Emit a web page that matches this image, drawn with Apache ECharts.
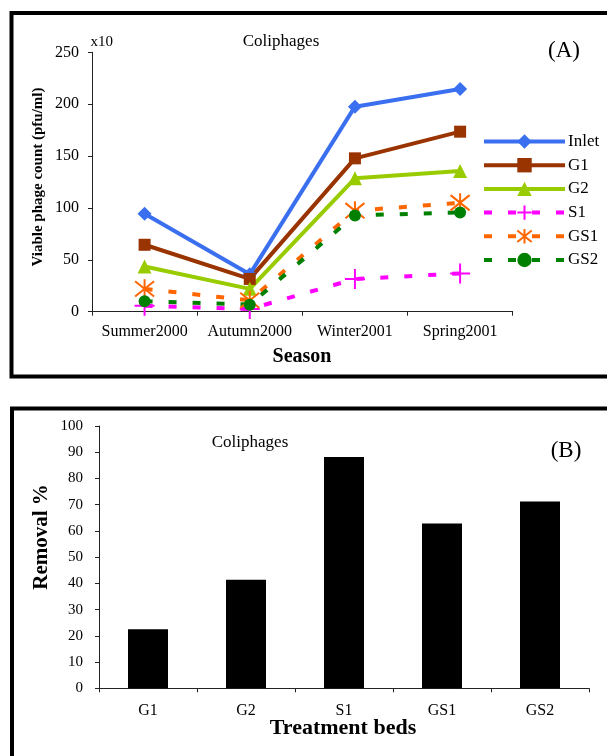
<!DOCTYPE html>
<html><head><meta charset="utf-8">
<script src="https://cdn.jsdelivr.net/npm/echarts@6/dist/echarts.min.js"></script>
<style>html,body{margin:0;padding:0;background:#fff}#c{width:607px;height:756px}</style>
</head><body><div id="c"></div>
<script>
// ---- Data (A) ----
const seasons = ['Summer2000', 'Autumn2000', 'Winter2001', 'Spring2001'];
const inlet = [94.5, 36, 197.6, 214.6];
const g1 = [64.5, 31.6, 147.8, 173.5];
const g2 = [43.5, 22, 128.5, 135.6];
const s1 = [5.8, 2.6, 31.5, 36.9];
const gs1 = [22, 11, 97.3, 105];
const gs2 = [10, 6.8, 92.8, 95.7];
// ---- Data (B) ----
const beds = ['G1', 'G2', 'S1', 'GS1', 'GS2'];
const removal = [22.5, 41.4, 88.2, 62.8, 71.2];

const FF = 'Liberation Serif';
const chart = echarts.init(document.getElementById('c'), null, {renderer: 'canvas'});

function lineSeries(name, data, color, symbol, size, dashed, extra) {
  return Object.assign({
    type: 'line', name: name, data: data, xAxisIndex: 0, yAxisIndex: 0,
    symbol: symbol, symbolSize: size,
    lineStyle: {color: color, width: 4, type: dashed ? [8, 16] : 'solid'},
    itemStyle: {color: color},
    emphasis: {disabled: true}
  }, extra || {});
}

const axisCommon = {
  axisLine: {show: true, lineStyle: {color: '#222', width: 1}},
  axisTick: {show: true, length: 4, lineStyle: {color: '#222'}},
  splitLine: {show: false}
};

chart.setOption({
  animation: false,
  backgroundColor: '#fff',
  grid: [
    {left: 92, top: 52.3, width: 420.7, height: 259.4},
    {left: 99, top: 426, width: 490, height: 262.3}
  ],
  xAxis: [
    Object.assign({type: 'category', gridIndex: 0, data: seasons,
      axisLabel: {fontFamily: FF, fontSize: 16, color: '#000', margin: 12, interval: 0}}, axisCommon),
    Object.assign({type: 'category', gridIndex: 1, data: beds,
      axisLabel: {fontFamily: FF, fontSize: 16, color: '#000', margin: 14, interval: 0}}, axisCommon)
  ],
  yAxis: [
    Object.assign({type: 'value', gridIndex: 0, min: 0, max: 250, interval: 50,
      axisLabel: {fontFamily: FF, fontSize: 16, color: '#000', margin: 13}}, axisCommon),
    Object.assign({type: 'value', gridIndex: 1, min: 0, max: 100, interval: 10,
      axisLabel: {fontFamily: FF, fontSize: 15, color: '#000', margin: 16}}, axisCommon)
  ],
  legend: {
    orient: 'vertical', left: 482, top: 133, padding: 0,
    itemWidth: 81, itemHeight: 18, itemGap: 6.7,
    lineStyle: {width: 4},
    textStyle: {fontFamily: FF, fontSize: 17, color: '#000', padding: [0, 0, 0, -2]},
    data: ['Inlet', 'G1', 'G2', 'S1', 'GS1', 'GS2']
  },
  series: [
    lineSeries('Inlet', inlet, '#3a6ff0', 'diamond', 14, false),
    lineSeries('G1', g1, '#993300', 'rect', 12, false),
    lineSeries('G2', g2, '#99cc00', 'triangle', 14, false),
    lineSeries('S1', s1, '#ff00ff', 'path://M0,10L20,10M10,0L10,20', 20, true,
      {itemStyle: {color: '#ff00ff', borderColor: '#ff00ff', borderWidth: 2}}),
    lineSeries('GS1', gs1, '#ff6600', 'path://M2,2L18,18M18,2L2,18M10,0L10,20', 19, true,
      {itemStyle: {color: '#ff6600', borderColor: '#ff6600', borderWidth: 2}}),
    lineSeries('GS2', gs2, '#008000', 'circle', 12, true),
    {type: 'bar', xAxisIndex: 1, yAxisIndex: 1, data: removal, barWidth: 40,
      itemStyle: {color: '#000'}, emphasis: {disabled: true}}
  ],
  graphic: [
    {type: 'rect', shape: {x: 11.5, y: 13, width: 620, height: 363.5},
      style: {fill: 'none', stroke: '#000', lineWidth: 4}, z: 100},
    {type: 'rect', shape: {x: 12, y: 408.5, width: 620, height: 380},
      style: {fill: 'none', stroke: '#000', lineWidth: 4}, z: 100},
    {type: 'text', x: 90.5, y: 42, style: {text: 'x10', font: '15px "Liberation Serif"', fill: '#000', align: 'left', verticalAlign: 'middle'}},
    {type: 'text', x: 281, y: 42, style: {text: 'Coliphages', font: '17px "Liberation Serif"', fill: '#000', align: 'center', verticalAlign: 'middle'}},
    {type: 'text', x: 564, y: 51, style: {text: '(A)', font: '23px "Liberation Serif"', fill: '#000', align: 'center', verticalAlign: 'middle'}},
    {type: 'text', x: 302, y: 357, style: {text: 'Season', font: 'bold 20px "Liberation Serif"', fill: '#000', align: 'center', verticalAlign: 'middle'}},
    {type: 'text', x: 38, y: 177, rotation: Math.PI / 2, style: {text: 'Viable phage count (pfu/ml)', font: 'bold 15px "Liberation Serif"', fill: '#000', align: 'center', verticalAlign: 'middle'}},
    {type: 'text', x: 250, y: 443, style: {text: 'Coliphages', font: '17px "Liberation Serif"', fill: '#000', align: 'center', verticalAlign: 'middle'}},
    {type: 'text', x: 566, y: 451, style: {text: '(B)', font: '23px "Liberation Serif"', fill: '#000', align: 'center', verticalAlign: 'middle'}},
    {type: 'text', x: 343, y: 728, style: {text: 'Treatment beds', font: 'bold 22px "Liberation Serif"', fill: '#000', align: 'center', verticalAlign: 'middle'}},
    {type: 'text', x: 42, y: 537, rotation: Math.PI / 2, style: {text: 'Removal %', font: 'bold 21px "Liberation Serif"', fill: '#000', align: 'center', verticalAlign: 'middle'}}
  ]
});
</script>
</body></html>
